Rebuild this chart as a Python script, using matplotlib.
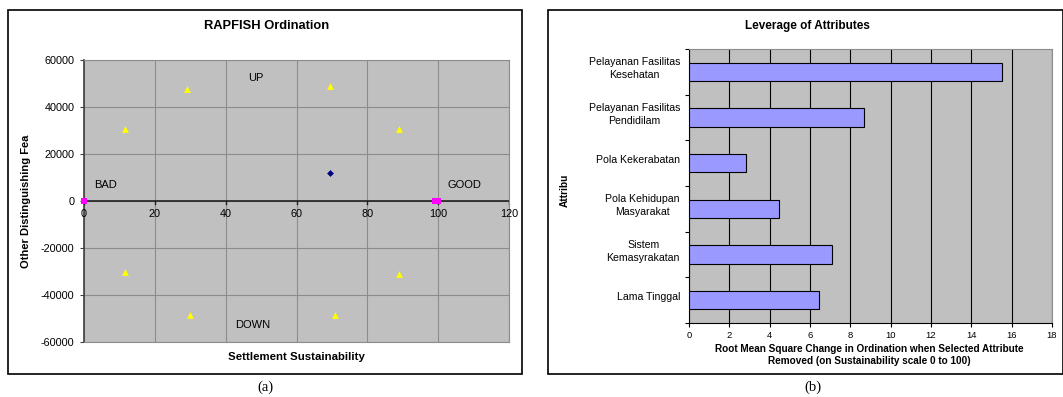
import matplotlib
matplotlib.use("Agg")
import matplotlib.pyplot as plt
from matplotlib.patches import Rectangle
import numpy as np

plt.rcParams['font.family'] = ['Liberation Sans', 'DejaVu Sans']
plt.rcParams['axes.unicode_minus'] = False

# Ordination (a)
ref_x = [11.5, 29, 69.5, 89, 11.5, 30, 71, 89]
ref_y = [30500, 47500, 49000, 30500, -30000, -48500, -48500, -31000]
anchor_x = [0, 99, 100]
anchor_y = [0, 0, 0]
site_x = [69.5]
site_y = [12000]

# Leverage (b)
attributes = ["Pelayanan Fasilitas\nKesehatan", "Pelayanan Fasilitas\nPendidilam",
              "Pola Kekerabatan", "Pola Kehidupan\nMasyarakat",
              "Sistem\nKemasyrakatan", "Lama Tinggal"]
leverage = [15.5, 8.7, 2.85, 4.45, 7.1, 6.45]

W, H = 1063, 397
fig = plt.figure(figsize=(W / 100, H / 100), dpi=100)
fig.patch.set_facecolor('white')


def px_axes(x0, y0, x1, y1):
    return fig.add_axes([x0 / W, 1 - y1 / H, (x1 - x0) / W, (y1 - y0) / H])


def frame(x0, y0, x1, y1):
    fig.patches.append(Rectangle((x0 / W, 1 - y1 / H), (x1 - x0) / W, (y1 - y0) / H,
                                 transform=fig.transFigure, fill=False,
                                 edgecolor='black', linewidth=1.2))


frame(8, 10, 522, 374)
frame(548, 10, 1063, 374)

# ---- (a) RAPFISH ordination ----
ax = px_axes(84, 60, 509, 342)
ax.set_facecolor('#c0c0c0')
ax.set_xlim(0, 120)
ax.set_ylim(-60000, 60000)
ax.set_xticks(np.arange(0, 121, 20))
ax.set_yticks(np.arange(-60000, 60001, 20000))
ax.grid(True, color='#8c8c8c', linewidth=0.8)
ax.set_axisbelow(True)
for s in ['top', 'right', 'bottom']:
    ax.spines[s].set_color('#8c8c8c')
ax.spines['left'].set_color('#404040')
ax.spines['left'].set_linewidth(1.2)
ax.axhline(0, color='#202020', linewidth=1.2, zorder=2)
ax.tick_params(axis='y', labelsize=7.8, length=3, color='#404040', pad=4)
ax.tick_params(axis='x', bottom=False, labelbottom=False)
for xv in np.arange(0, 121, 20):
    ax.plot([xv, xv], [0, -1200], color='#202020', linewidth=1, zorder=3)
    ax.text(xv, -3300, f"{xv}", ha='center', va='top', fontsize=7.8)
ax.scatter(ref_x, ref_y, marker='^', s=24, color='#ffff00', zorder=4, linewidths=0)
ax.scatter(anchor_x, anchor_y, marker='s', s=22, color='#ff00ff', zorder=5, linewidths=0, clip_on=False)
ax.scatter(site_x, site_y, marker='D', s=12, color='#000080', zorder=5, linewidths=0)
ax.text(48.5, 52500, "UP", ha='center', va='center', fontsize=8)
ax.text(47.5, -52800, "DOWN", ha='center', va='center', fontsize=8)
ax.text(2.8, 6600, "BAD", ha='left', va='center', fontsize=8)
ax.text(107.5, 6600, "GOOD", ha='center', va='center', fontsize=8)
fig.text(267 / W, 1 - 26 / H, "RAPFISH Ordination", ha='center', va='center',
         fontsize=9.3, fontweight='bold')
fig.text(296 / W, 1 - 357 / H, "Settlement Sustainability", ha='center', va='center',
         fontsize=8.2, fontweight='bold')
fig.text(26 / W, 1 - 201 / H, "Other Distinguishing Fea", ha='center', va='center',
         rotation=90, fontsize=8, fontweight='bold')
fig.text(265 / W, 1 - 387 / H, "(a)", ha='center', va='center', fontsize=10.5,
         family=['Liberation Serif', 'DejaVu Serif'])

# ---- (b) Leverage of attributes ----
bx = px_axes(689, 49, 1052, 323)
bx.set_facecolor('#c0c0c0')
n = len(attributes)
ypos = np.arange(n)[::-1]
bx.barh(ypos, leverage, height=0.4, color='#9999ff', edgecolor='black', linewidth=0.8, zorder=3)
bx.set_xlim(0, 18)
bx.set_ylim(-0.5, n - 0.5)
bx.set_xticks(np.arange(0, 19, 2))
bx.grid(True, axis='x', color='black', linewidth=0.8)
bx.set_axisbelow(True)
bx.set_yticks(np.arange(-0.5, n, 1.0))
bx.set_yticklabels([])
bx.tick_params(axis='y', length=3, width=0.8)
bx.tick_params(axis='x', labelsize=6.8, length=3, width=0.8, pad=3)
for s in ['top', 'right']:
    bx.spines[s].set_color('#8c8c8c')
bx.spines['left'].set_linewidth(0.8)
bx.spines['bottom'].set_linewidth(0.8)
for yv, lab in zip(ypos, attributes):
    bx.text(-0.45, yv + 0.07, lab, ha='right', va='center', multialignment='center',
            fontsize=7.6, linespacing=1.4, transform=bx.transData)
fig.text(807 / W, 1 - 26 / H, "Leverage of Attributes", ha='center', va='center',
         fontsize=8.5, fontweight='bold')
fig.text(869 / W, 1 - 355 / H,
         "Root Mean Square Change in Ordination when Selected Attribute\nRemoved (on Sustainability scale 0 to 100)",
         ha='center', va='center', fontsize=7.2, fontweight='bold', linespacing=1.2)
fig.text(565 / W, 1 - 190 / H, "Attribu", ha='center', va='center', rotation=90,
         fontsize=7.3, fontweight='bold')
fig.text(813 / W, 1 - 387 / H, "(b)", ha='center', va='center', fontsize=10.5,
         family=['Liberation Serif', 'DejaVu Serif'])

fig.savefig("out.png", dpi=100)
